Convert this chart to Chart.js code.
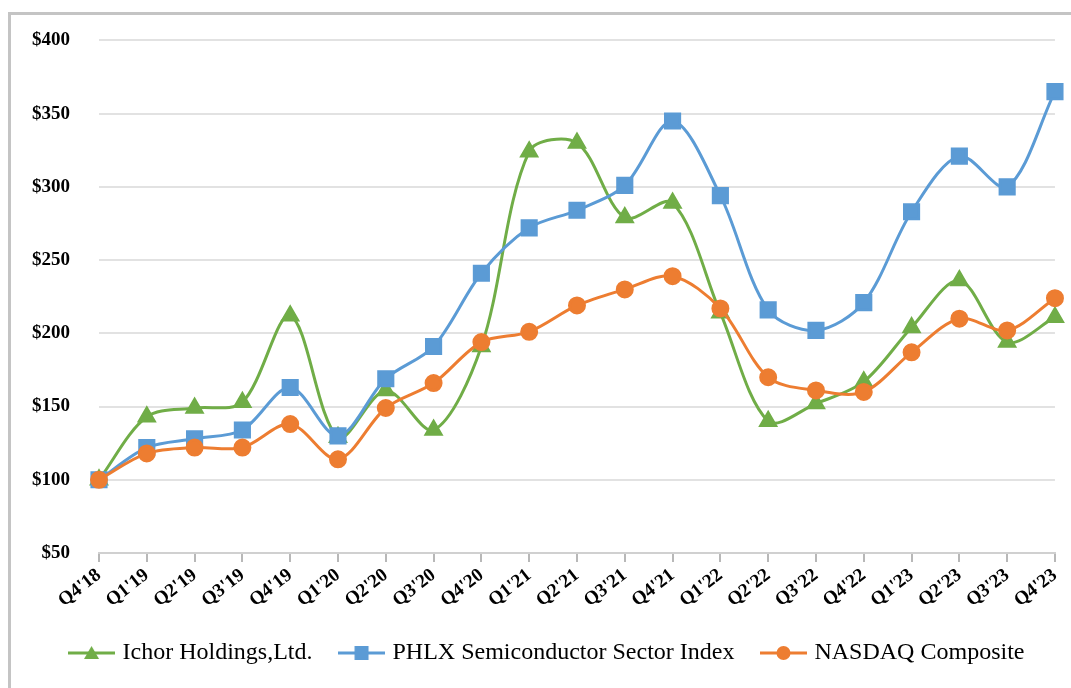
<!DOCTYPE html>
<html>
<head>
<meta charset="utf-8">
<script src="https://cdn.jsdelivr.net/npm/chart.js@4/dist/chart.umd.min.js"></script>
<style>
  html, body { margin: 0; padding: 0; background: #fff; }
  #wrap { position: relative; width: 1071px; height: 688px; overflow: hidden; }
  #frame { position: absolute; left: 8px; top: 12px; width: 1100px; height: 700px;
           border-left: 3px solid #c4c4c4; border-top: 3px solid #c4c4c4; }
  canvas { position: absolute; left: 0; top: 0; }
</style>
</head>
<body>
<div id="wrap">
  <div id="frame"></div>
  <canvas id="c" width="1071" height="688"></canvas>
</div>
<script>
const categories = ["Q4'18","Q1'19","Q2'19","Q3'19","Q4'19","Q1'20","Q2'20","Q3'20","Q4'20",
  "Q1'21","Q2'21","Q3'21","Q4'21","Q1'22","Q2'22","Q3'22","Q4'22","Q1'23","Q2'23","Q3'23","Q4'23"];
const ichor  = [100,143,149,153,212,129,161,134,191,324,330,279,289,214,140,152,167,204,236,194,211];
const phlx   = [100,122,128,134,163,130,169,191,241,272,284,301,345,294,216,202,221,283,321,300,365];
const nasdaq = [100,118,122,122,138,114,149,166,194,201,219,230,239,217,170,161,160,187,210,202,224];
const seriesNames = ["Ichor Holdings,Ltd.", "PHLX Semiconductor Sector Index", "NASDAQ Composite"];
const yTicks = [50,100,150,200,250,300,350,400];

const GREEN = '#70AD47', BLUE = '#5B9BD5', ORANGE = '#ED7D31';
const FONT = '"Liberation Serif", "Times New Roman", serif';

function legendImg(color, shape) {
  const cv = document.createElement('canvas');
  cv.width = 47; cv.height = 20;
  const g = cv.getContext('2d');
  g.strokeStyle = color; g.lineWidth = 3;
  g.beginPath(); g.moveTo(0, 10); g.lineTo(47, 10); g.stroke();
  g.fillStyle = color;
  g.beginPath();
  if (shape === 'triangle') {
    g.moveTo(23.5, 3); g.lineTo(31, 16); g.lineTo(16, 16); g.closePath();
  } else if (shape === 'rect') {
    g.rect(16.5, 3, 14, 14);
  } else {
    g.arc(23.5, 10, 7, 0, Math.PI * 2);
  }
  g.fill();
  return cv;
}
const legendImgs = [legendImg(GREEN,'triangle'), legendImg(BLUE,'rect'), legendImg(ORANGE,'circle')];
const legendColors = [GREEN, BLUE, ORANGE];

const shiftLegend = {
  id: 'shiftLegend',
  afterLayout(chart) {
    if (chart.legend) { chart.legend.left += 18; chart.legend.right += 18; }
  }
};

new Chart(document.getElementById('c'), {
  type: 'line',
  data: {
    labels: categories,
    datasets: [
      { label: seriesNames[0], data: ichor, borderColor: GREEN, backgroundColor: GREEN,
        pointStyle: 'triangle', pointRadius: 8.5, pointHoverRadius: 8.5, borderWidth: 3, order: 3 },
      { label: seriesNames[1], data: phlx, borderColor: BLUE, backgroundColor: BLUE,
        pointStyle: 'rect', pointRadius: 10, pointHoverRadius: 10, borderWidth: 3, order: 2 },
      { label: seriesNames[2], data: nasdaq, borderColor: ORANGE, backgroundColor: ORANGE,
        pointStyle: 'circle', pointRadius: 7.5, pointHoverRadius: 7.5, borderWidth: 3, order: 1 }
    ]
  },
  plugins: [shiftLegend],
  options: {
    responsive: false,
    animation: false,
    layout: { padding: { left: 0, right: 10, top: 39, bottom: 13 } },
    elements: { line: { tension: 0.32 }, point: { borderWidth: 0 } },
    plugins: {
      tooltip: { enabled: false },
      legend: {
        position: 'bottom',
        labels: {
          usePointStyle: true,
          pointStyleWidth: 38,
          padding: 30,
          color: '#111',
          font: { family: FONT, size: 24 },
          generateLabels: () => seriesNames.map((n, i) => ({
            text: n, pointStyle: legendImgs[i], fillStyle: legendColors[i],
            strokeStyle: legendColors[i], lineWidth: 0, hidden: false, datasetIndex: i
          }))
        }
      }
    },
    scales: {
      x: {
        grid: { drawOnChartArea: false, drawTicks: true, tickLength: 9, color: '#b8b8b8', lineWidth: 2 },
        border: { display: true, color: '#d0d0d0', width: 2 },
        ticks: { autoSkip: false, minRotation: 38, maxRotation: 38, padding: 2, color: '#000',
                 font: { family: FONT, size: 19, weight: 'bold' } },
        afterFit: s => { s.height = 58; }
      },
      y: {
        min: 50, max: 400,
        afterBuildTicks: s => { s.ticks = yTicks.map(v => ({ value: v })); },
        grid: { drawTicks: false, color: '#e2e2e2', lineWidth: 2 },
        border: { display: false },
        ticks: { padding: 29, color: '#000', callback: v => '$' + v,
                 font: { family: FONT, size: 19, weight: 'bold' } },
        afterFit: s => { s.width = 99; }
      }
    }
  }
});
</script>
</body>
</html>
